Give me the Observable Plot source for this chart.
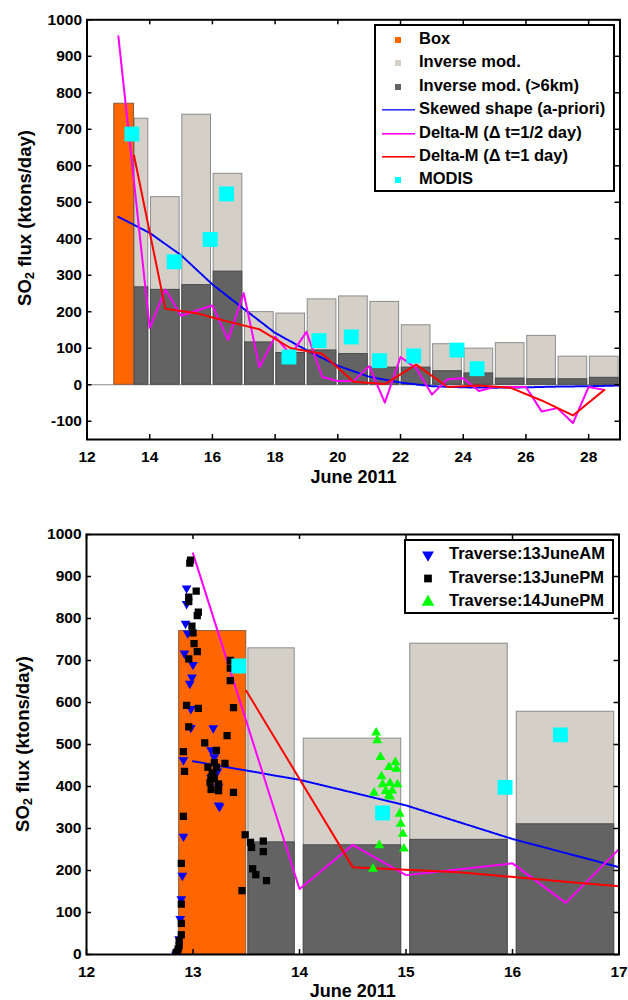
<!DOCTYPE html>
<html><head><meta charset="utf-8">
<script src="https://cdn.jsdelivr.net/npm/d3@7"></script>
<script src="https://cdn.jsdelivr.net/npm/@observablehq/plot@0.6"></script>
<style>
body{margin:0;background:#fff}
#wrap{position:relative;width:628px;height:1000px;overflow:hidden}
#wrap svg{position:absolute;left:0}
</style>
</head><body><div id="wrap"></div>
<script>
// ---------- data ----------
const boxStart = 12.87, boxEnd = 13.5, boxFlux = 770;
const invStart = [13.5,14,15,16,17,18,19,20,21,22,23,24,25,26,27,28];
const invTotal = [729,514,740,578,199,195,234,242,227,163,111,99,114,134,77,77];
const invHigh  = [267,260,273,310,116,87,94,84,47,47,37,31,17,15,15,19];

const modisDay  = [13.43,14.78,15.93,16.45,18.44,19.40,20.43,21.33,22.42,23.80,24.44];
const modisFlux = [687,337,398,523,76,121,131,66,79,95,44];

const skewDay  = [13,14,15,16,17,18,19,20,21,22,23,24,25,26,27,28,29];
const skewFlux = [460,416,355,275,208,142,95,52,22,6,-4,-7,-8,-7,-5,-4,-2];

const dmHalfDay  = [13,14,14.5,15,16,16.5,17,17.5,18,18.5,19,19.5,20,20.5,21,21.5,22,22.5,23,23.5,24,24.5,25,25.5,26,26.5,27,27.5,28,28.5];
const dmHalfFlux = [955,156,261,189,217,123,251,48,132,82,145,22,10,10,51,-49,76,45,-27,15,18,-17,-6,-6,-6,-73,-64,-105,-6,-14];

const dmDayDay  = [13.5,14.5,15.5,16.5,17.5,18.5,19.5,20.5,21.5,22.5,23.5,24.5,25.5,26.5,27.5,28.5];
const dmDayFlux = [628,208,196,173,152,100,85,8,2,55,-6,-2,-8,-43,-84,-14];

const amDay  = [12.94,12.94,12.93,12.95,12.92,13.0,12.99,12.97,12.98,12.98,13.19,13.17,13.2,12.91,13.23,13.17,13.24,13.24,13.25,12.91,12.9,12.89,12.88,12.87,12.85,12.84];
const amFlux = [872,835,788,765,717,690,660,645,585,540,539,487,470,463,436,421,400,355,352,281,188,132,85,37,6,0];

const pmDay  = [12.977,12.97,13.03,12.96,12.96,13.05,13.04,12.99,13.0,13.01,13.04,12.96,13.35,13.35,13.35,12.94,13.05,13.38,12.96,13.11,13.32,12.91,13.22,12.92,13.14,13.2,13.22,13.30,13.17,13.2,13.16,13.24,13.17,13.24,13.38,12.91,13.49,13.54,13.55,13.66,13.66,13.56,13.59,13.69,13.46,12.89,12.89,12.89,12.89,12.87,12.87,12.86,12.85,12.84,13.19,13.18];
const pmFlux = [939,932,865,851,840,815,807,782,766,740,721,704,700,682,652,593,586,588,542,504,521,483,486,436,446,457,446,455,422,418,410,406,393,390,386,329,285,267,255,270,245,204,190,176,152,217,120,74,47,33,21,13,6,2,428,432];

const jun14Day  = [14.72,14.73,14.76,14.90,14.84,14.91,14.77,14.85,14.78,14.92,14.70,14.81,14.87,14.84,14.85,14.94,14.95,14.97,14.75,14.98,14.69];
const jun14Flux = [528,510,470,458,446,442,424,408,405,405,385,389,390,379,376,335,311,287,260,252,204];

const topXTicks = [12,14,16,18,20,22,24,26,28];
const topYTicks = [-100,0,100,200,300,400,500,600,700,800,900,1000];
const botXTicks = [12,13,14,15,16,17];
const botYTicks = [0,100,200,300,400,500,600,700,800,900,1000];

const legendTop = ["Box","Inverse mod.","Inverse mod. (>6km)","Skewed shape (a-priori)","Delta-M (\u0394 t=1/2 day)","Delta-M (\u0394 t=1 day)","MODIS"];
const legendBot = ["Traverse:13JuneAM","Traverse:13JunePM","Traverse:14JunePM"];

// ---------- styles ----------
const FONT = "'Liberation Sans', Arial, Helvetica, sans-serif";
const C = {box:"#ff6600", light:"#d4d0c8", dark:"#636363", cyan:"#00ffff", blue:"#0000ff", mag:"#ff00ff", red:"#ff0000", green:"#00ff00"};

const zip = (a,b) => a.map((v,i)=>({x:v, y:b[i]}));
const inv = invStart.map((s,i)=>({x1: s + (s % 1 ? 0.02 : 0.04), x2: Math.floor(s) + 0.955, total: invTotal[i], high: invHigh[i]}));
const boxData = [{x1: boxStart, x2: boxEnd, y: boxFlux}];

function panel({xDom, yDom, xTicks, yTicks, height, mt, mb, ml, mr, bottom}) {
  const W = 628;
  const fw = W - ml - mr, fh = height - mt - mb;
  const tl = 5;
  const dxu = tl * (xDom[1]-xDom[0]) / fw, dyu = tl * (yDom[1]-yDom[0]) / fh;
  const clip = bottom;
  const marks = [];
  if (!bottom) marks.push(Plot.ruleY([0], {stroke:"#8a8a8a", strokeWidth:1}));
  marks.push(
    Plot.rect(inv, {x1:"x1", x2:"x2", y1:0, y2:"total", fill:C.light, stroke:"#8c8c8c", strokeWidth:1, clip}),
    Plot.rect(inv, {x1:"x1", x2:"x2", y1:0, y2:"high", fill:C.dark, stroke:"#4a4a4a", strokeWidth:1, clip}),
    Plot.rect(boxData, {x1:"x1", x2:"x2", y1:0, y2:"y", fill:C.box, stroke:"#8a5a3a", strokeWidth:1, clip}),
    Plot.line(zip(skewDay, skewFlux), {x:"x", y:"y", stroke:C.blue, strokeWidth:2, strokeDasharray:"1.6,1.4", clip}),
    Plot.line(zip(dmHalfDay, dmHalfFlux), {x:"x", y:"y", stroke:C.mag, strokeWidth:2, clip}),
    Plot.line(zip(dmDayDay, dmDayFlux), {x:"x", y:"y", stroke:C.red, strokeWidth:2, clip})
  );
  if (bottom) marks.push(
    Plot.dot(zip(amDay, amFlux), {x:"x", y:"y", symbol:"triangle", rotate:180, r:3.6, fill:C.blue, clip}),
    Plot.dot(zip(pmDay, pmFlux), {x:"x", y:"y", symbol:"square", r:4.1, fill:"#000", clip}),
    Plot.dot(zip(jun14Day, jun14Flux), {x:"x", y:"y", symbol:"triangle", r:3.7, fill:C.green, clip})
  );
  marks.push(
    Plot.dot(zip(modisDay, modisFlux), {x:"x", y:"y", symbol:"square", r:8.4, fill:C.cyan, clip}),
    Plot.ruleX(xTicks, {x:d=>d, y1:yDom[0], y2:yDom[0]+dyu, stroke:"#000", strokeWidth:1.5}),
    Plot.ruleX(xTicks, {x:d=>d, y1:yDom[1], y2:yDom[1]-dyu, stroke:"#000", strokeWidth:1.5}),
    Plot.ruleY(yTicks, {y:d=>d, x1:xDom[0], x2:xDom[0]+dxu, stroke:"#000", strokeWidth:1.5}),
    Plot.ruleY(yTicks, {y:d=>d, x1:xDom[1], x2:xDom[1]-dxu, stroke:"#000", strokeWidth:1.5}),
    Plot.axisX(xTicks, {tickSize:0, tickPadding:11, label:null, tickFormat:d=>String(d), fontSize:15.5, fontWeight:"bold"}),
    Plot.axisY(yTicks, {tickSize:0, tickPadding:5, label:null, tickFormat:d=>String(d), fontSize:15.5, fontWeight:"bold"}),
    Plot.text(["June 2011"], {frameAnchor:"bottom", lineAnchor:"middle", dy: bottom ? 37 : 38, fontSize:18, fontWeight:"bold", fill:"#000"}),
    Plot.frame({stroke:"#000", strokeWidth:2})
  );
  return Plot.plot({
    width: W, height,
    marginTop: mt, marginBottom: mb, marginLeft: ml, marginRight: mr,
    x: {domain: xDom},
    y: {domain: yDom},
    style: {fontFamily: FONT, fontSize: "15.5px", fontWeight: "bold", color: "#000", background: "transparent", overflow: "visible"},
    marks
  });
}

function yLabel(svg, cx, cy) {
  const t = svg.append("text")
    .attr("transform", `translate(${cx},${cy}) rotate(-90)`)
    .attr("text-anchor","middle").attr("dominant-baseline","middle")
    .style("font-family", FONT).style("font-weight","bold").style("font-size","18.5px").attr("fill","#000");
  t.append("tspan").text("SO");
  t.append("tspan").attr("dy", 5).style("font-size","13px").text("2");
  t.append("tspan").attr("dy", -5).text(" flux (ktons/day)");
}

const wrap = document.getElementById("wrap");

// ---------- top panel ----------
const topChart = panel({xDom:[12,29], yDom:[-150,1000], xTicks:topXTicks, yTicks:topYTicks, height:500, mt:19.3, mb:61, ml:86.5, mr:8.5, bottom:false});
topChart.style.top = "0px";
wrap.appendChild(topChart);
{
  const svg = d3.select(topChart);
  yLabel(svg, 26, 218);
  const g = svg.append("g").attr("text-anchor","start").style("font-family", FONT).style("font-weight","bold").style("font-size","16.5px");
  g.append("rect").attr("x",375).attr("y",25).attr("width",239).attr("height",166).attr("fill","#fff").attr("stroke","#000").attr("stroke-width",2);
  const kinds = [["sq",C.box],["sq",C.light],["sq",C.dark],["dot",C.blue],["ln",C.mag],["ln",C.red],["sq",C.cyan]];
  legendTop.forEach((lab,i)=>{
    const y = Math.round(40 + i*23.4);
    const [k,col] = kinds[i];
    if (k==="sq") g.append("rect").attr("x",395).attr("y",y-3).attr("width",6).attr("height",6).attr("fill",col);
    else g.append("rect").attr("x",382).attr("y",y-1).attr("width",33).attr("height", 1.6).attr("fill", col)
           .attr("opacity", k==="dot" ? 0.8 : 1);
    g.append("text").attr("x",419).attr("y",y).attr("text-anchor","start").attr("dominant-baseline","middle").attr("fill","#000").text(lab);
  });
}

// ---------- bottom panel ----------
const botChart = panel({xDom:[12,17], yDom:[0,1000], xTicks:botXTicks, yTicks:botYTicks, height:500, mt:34, mb:46, ml:86, mr:9.5, bottom:true});
botChart.style.top = "500px";
wrap.appendChild(botChart);
{
  const svg = d3.select(botChart);
  yLabel(svg, 24, 244);
  const g = svg.append("g").attr("text-anchor","start").style("font-family", FONT).style("font-weight","bold").style("font-size","16.5px");
  g.append("rect").attr("x",405).attr("y",40).attr("width",208).attr("height",73).attr("fill","#fff").attr("stroke","#000").attr("stroke-width",2);
  const sym = [[d3.symbolTriangle, C.blue, 180, 60],[d3.symbolSquare, "#000", 0, 60],[d3.symbolTriangle, C.green, 0, 70]];
  legendBot.forEach((lab,i)=>{
    const y = 55 + i*23.5;
    const [s,col,rot,size] = sym[i];
    g.append("path").attr("d", d3.symbol(s, size)()).attr("transform",`translate(428,${y}) rotate(${rot})`).attr("fill",col);
    g.append("text").attr("x",449).attr("y",y).attr("text-anchor","start").attr("dominant-baseline","middle").attr("fill","#000").text(lab);
  });
}
</script>
</body></html>
